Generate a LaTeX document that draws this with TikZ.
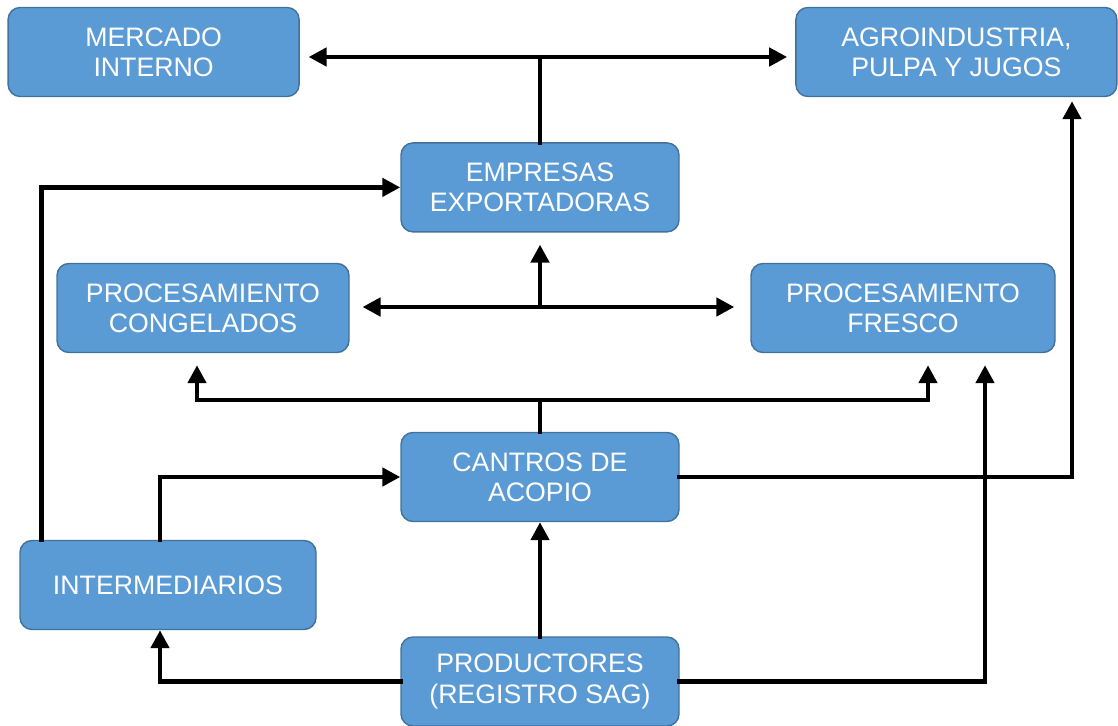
\documentclass[tikz,border=0pt]{standalone}
\usepackage{fontspec}
\setmainfont{Liberation Sans}
\usetikzlibrary{positioning, arrows.meta}

\definecolor{boxfill}{HTML}{5B9BD5}
\definecolor{boxline}{HTML}{41719C}

\begin{document}
\begin{tikzpicture}[
    box/.style={rectangle, rounded corners=0.3cm, draw=boxline, fill=boxfill, line width=1pt,
        text=white, align=center, minimum height=2.225cm, font=\fontsize{19}{21.5}\selectfont},
    link/.style={line width=3.5pt, line cap=rect},
    arrow/.style={link, -{Triangle[length=4.5mm, width=4.5mm]}}
]
\useasboundingbox (0,0) rectangle (27.95,18.125);

% === Boxes ===
\node[box, minimum width=7.275cm] (mercado) at (3.84, 16.825) {MERCADO\\INTERNO};
\node[box, minimum width=8.025cm] (agro) at (23.91, 16.825) {AGROINDUSTRIA,\\PULPA Y JUGOS};
\node[box, minimum width=6.95cm] (empresas) at (13.5, 13.44) {EMPRESAS\\EXPORTADORAS};
\node[box, minimum width=7.3cm] (congelados) at (5.075, 10.425) {PROCESAMIENTO\\CONGELADOS};
\node[box, minimum width=7.6cm] (fresco) at (22.575, 10.425) {PROCESAMIENTO\\FRESCO};
\node[box, minimum width=6.95cm] (acopio) at (13.5, 6.2) {CANTROS DE\\ACOPIO};
\node[box, minimum width=7.4cm] (interm) at (4.2, 3.5) {INTERMEDIARIOS};
\node[box, minimum width=6.95cm] (productores) at (13.5, 1.0875) {PRODUCTORES\\(REGISTRO SAG)};

% Junctions
\coordinate (topj) at (13.5, 16.7);
\coordinate (procj) at (13.5, 10.45);
\coordinate (acoj) at (13.5, 8.125);

% === Exporters to markets ===
\draw[link] (empresas.north) -- (topj);
\draw[arrow, shorten >=2.2mm] (topj) -- (topj -| mercado.east);
\draw[arrow, shorten >=2mm] (topj) -- (topj -| agro.west);

% === Processing ===
\draw[arrow, shorten >=3mm] (procj) -- (empresas.south);
\draw[arrow, shorten >=3.2mm] (procj) -- (procj -| congelados.east);
\draw[arrow, shorten >=4mm] (procj) -- (procj -| fresco.west);

% === Collection centres ===
\draw[link] (acopio.north) -- (acoj);
\draw[arrow, shorten >=3mm] (acoj) -| ([xshift=-0.15cm]congelados.south);
\draw[arrow, shorten >=3mm] (acoj) -| ([xshift=0.625cm]fresco.south);
\draw[arrow, shorten >=1mm] (acopio.east) -| ([xshift=2.89cm]agro.south);

% === Intermediaries ===
\draw[arrow] ([xshift=0.55cm]interm.north west) |- (empresas.west);
\draw[arrow] ([xshift=-2mm]interm.north) |- (acopio.west);

% === Producers ===
\draw[arrow] (productores.north) -- (acopio.south);
\draw[arrow] (productores.west) -| ([xshift=-2mm]interm.south);
\draw[arrow, shorten >=3mm] (productores.east) -| ([xshift=2.05cm]fresco.south);

\end{tikzpicture}
\end{document}
